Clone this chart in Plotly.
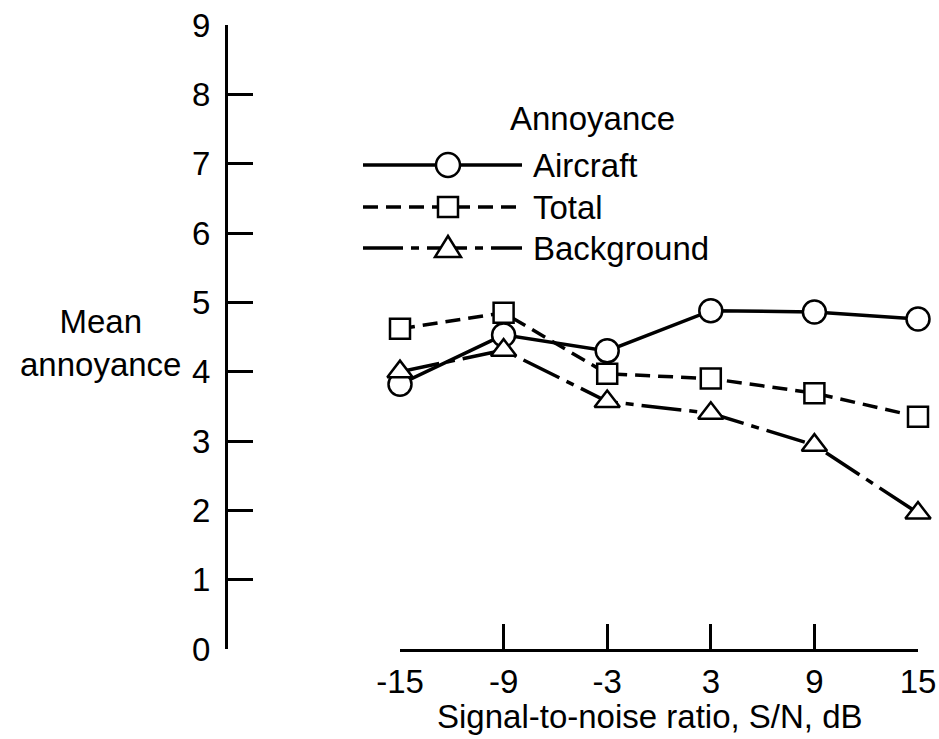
import plotly.graph_objects as go

# ---- data ----
sn_db = [-15, -9, -3, 3, 9, 15]
tick_labels = ["-15", "-9", "-3", "3", "9", "15"]
aircraft = [3.82, 4.53, 4.30, 4.88, 4.86, 4.76]
total = [4.62, 4.85, 3.97, 3.90, 3.69, 3.35]
background = [4.00, 4.31, 3.57, 3.40, 2.94, 1.96]
y_ticks = [0, 1, 2, 3, 4, 5, 6, 7, 8, 9]

W, H = 939, 739
def X(px):
    return px / W
def Y(py):
    return 1 - py / H

TXT = "Liberation Sans, Arial, sans-serif"
NUM = "Liberation Sans Narrow, Liberation Sans, Arial, sans-serif"
BK = "black"
DASH_TOTAL = "15px,8px"
DASH_BG = "40px,8px,8px,8px"
LW = 3.5
FS = 33

series = [
    ("Aircraft", aircraft, "solid", "circle", 23),
    ("Total", total, DASH_TOTAL, "square", 20),
    ("Background", background, DASH_BG, "triangle-up", 22),
]

fig = go.Figure()
for name, vals, dash, sym, size in series:
    fig.add_trace(go.Scatter(x=sn_db, y=vals, mode="lines", name=name,
                             line=dict(color=BK, width=LW, dash=dash),
                             showlegend=False, cliponaxis=False))
for name, vals, dash, sym, size in series:
    fig.add_trace(go.Scatter(x=sn_db, y=vals, mode="markers", name=name,
                             marker=dict(symbol=sym, size=size, color="white",
                                         line=dict(color=BK, width=2.5)),
                             showlegend=False, cliponaxis=False))

shapes = []
# legend samples
rows = [("Aircraft", 165, "solid", "circle"),
        ("Total", 207, DASH_TOTAL, "square"),
        ("Background", 248, DASH_BG, "triangle")]
annotations = []
for name, py, dash, kind in rows:
    shapes.append(dict(type="line", xref="paper", yref="paper",
                       x0=X(363), x1=X(522), y0=Y(py), y1=Y(py),
                       line=dict(color=BK, width=LW, dash=dash), layer="above"))
    cx = 448
    if kind == "circle":
        r = 12
        shapes.append(dict(type="circle", xref="paper", yref="paper",
                           x0=X(cx - r), x1=X(cx + r), y0=Y(py + r), y1=Y(py - r),
                           fillcolor="white", line=dict(color=BK, width=2.5), layer="above"))
    elif kind == "square":
        r = 10
        shapes.append(dict(type="rect", xref="paper", yref="paper",
                           x0=X(cx - r), x1=X(cx + r), y0=Y(py + r), y1=Y(py - r),
                           fillcolor="white", line=dict(color=BK, width=2.5), layer="above"))
    else:
        top, bot, hw = py - 12, py + 9, 13
        path = "M {:.5f},{:.5f} L {:.5f},{:.5f} L {:.5f},{:.5f} Z".format(
            X(cx), Y(top), X(cx - hw), Y(bot), X(cx + hw), Y(bot))
        shapes.append(dict(type="path", xref="paper", yref="paper", path=path,
                           fillcolor="white", line=dict(color=BK, width=2.5), layer="above"))
    annotations.append(dict(text=name, xref="paper", yref="paper", x=X(531), y=Y(py),
                            xanchor="left", yanchor="middle", showarrow=False,
                            font=dict(family=TXT, size=FS, color=BK)))

annotations.append(dict(text="Annoyance", xref="paper", yref="paper", x=X(592), y=Y(118),
                        xanchor="center", yanchor="middle", showarrow=False,
                        font=dict(family=TXT, size=FS, color=BK)))
annotations.append(dict(text="Mean<br>annoyance", xref="paper", yref="paper", x=X(100), y=Y(343),
                        xanchor="center", yanchor="middle", showarrow=False, align="center",
                        font=dict(family=TXT, size=FS, color=BK)))
annotations.append(dict(text="Signal-to-noise ratio, S/N, dB", xref="paper", yref="paper",
                        x=X(650), y=Y(716), xanchor="center", yanchor="middle", showarrow=False,
                        font=dict(family=TXT, size=FS, color=BK)))

fig.update_layout(
    width=W, height=H,
    margin=dict(l=0, r=0, t=0, b=0, pad=0),
    paper_bgcolor="white", plot_bgcolor="white",
    shapes=shapes, annotations=annotations,
    xaxis=dict(domain=[X(400), X(918)], range=[-15, 15], anchor="y", automargin=False,
               showline=True, linecolor=BK, linewidth=3,
               ticks="inside", ticklen=25, tickwidth=3, tickcolor=BK,
               tickvals=sn_db, ticktext=tick_labels,
               tickfont=dict(family=NUM, size=FS, color=BK),
               showgrid=False, zeroline=False, ticklabelstandoff=1),
    yaxis=dict(domain=[1 - 649 / H, 1 - 25 / H], range=[0, 9], anchor="free",
               position=X(226), automargin=False,
               showline=True, linecolor=BK, linewidth=3,
               ticks="inside", ticklen=25, tickwidth=3, tickcolor=BK,
               tickvals=y_ticks, ticktext=[str(v) for v in y_ticks],
               tickfont=dict(family=NUM, size=FS, color=BK),
               showgrid=False, zeroline=False, ticklabelstandoff=8),
)

fig.write_html("out.html", config={"displayModeBar": False})
